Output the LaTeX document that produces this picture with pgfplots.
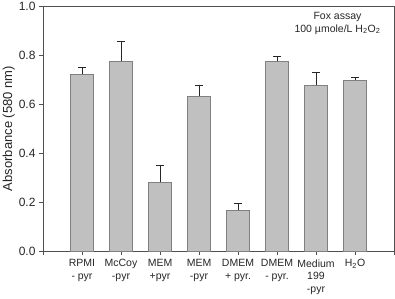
\documentclass[border=0pt]{standalone}
\usepackage{pgfplots}
\pgfplotsset{compat=1.18}
\usepackage{fontspec}
\setmainfont{Liberation Sans}
\definecolor{barfill}{HTML}{C0C0C0}
\definecolor{baredge}{HTML}{808080}
\definecolor{axline}{HTML}{505050}
\begin{document}
\begin{tikzpicture}
\begin{axis}[
  name=ax,
  scale only axis,
  width=351pt, height=245pt,
  xmin=0, xmax=9, ymin=0, ymax=1,
  axis line style={axline, line width=0.9pt},
  xtick={1,2,3,4,5,6,7,8},
  extra x ticks={0,9},
  extra x tick labels={},
  xticklabels={{RPMI\\- pyr},{McCoy\\-pyr},{MEM\\+pyr},{MEM\\-pyr},{DMEM\\+ pyr.},{DMEM\\- pyr.},{Medium\\199\\-pyr},{H\textsubscript{2}O}},
  xticklabel style={align=center, font=\fontsize{10.5}{12.5}\selectfont, text=black!85, anchor=north, yshift=-1pt},
  ytick={0,0.2,0.4,0.6,0.8,1.0},
  yticklabel style={/pgf/number format/fixed, /pgf/number format/fixed zerofill, /pgf/number format/precision=1, /pgf/number format/assume math mode=true, font=\fontsize{12}{14}\selectfont, text=black!85},
  tick style={axline, line width=0.9pt},
  major tick length=4pt,
  xtick pos=bottom, ytick pos=left,
  tick align=outside,
  ylabel={Absorbance (580 nm)},
  ylabel style={font=\fontsize{13}{15}\selectfont, text=black!85, yshift=-3pt},
  clip=false,
]
\addplot[ybar, bar width=23pt, fill=barfill, draw=baredge, line width=0.8pt,
  error bars/.cd, y dir=plus, y explicit, error bar style={black!85, line width=0.7pt}, error mark options={rotate=90, mark size=4pt, black!85, line width=0.7pt}]
coordinates {
 (1,0.721) +- (0,0.029)
 (2,0.774) +- (0,0.080)
 (3,0.280) +- (0,0.070)
 (4,0.631) +- (0,0.047)
 (5,0.166) +- (0,0.029)
 (6,0.774) +- (0,0.021)
 (7,0.676) +- (0,0.052)
 (8,0.697) +- (0,0.012)
};
\node[align=center, font=\fontsize{10.5}{13}\selectfont, text=black!85, anchor=north] at (axis cs:7.55,0.99) {Fox assay\\100 µmole/L H\textsubscript{2}O\textsubscript{2}};
\end{axis}
\pgfresetboundingbox
\path (ax.south west) ++(-43pt,-47pt) coordinate (bl);
\path (ax.north east) ++(1pt,6pt) coordinate (tr);
\path[use as bounding box] (bl) rectangle (tr);
\end{tikzpicture}
\end{document}
